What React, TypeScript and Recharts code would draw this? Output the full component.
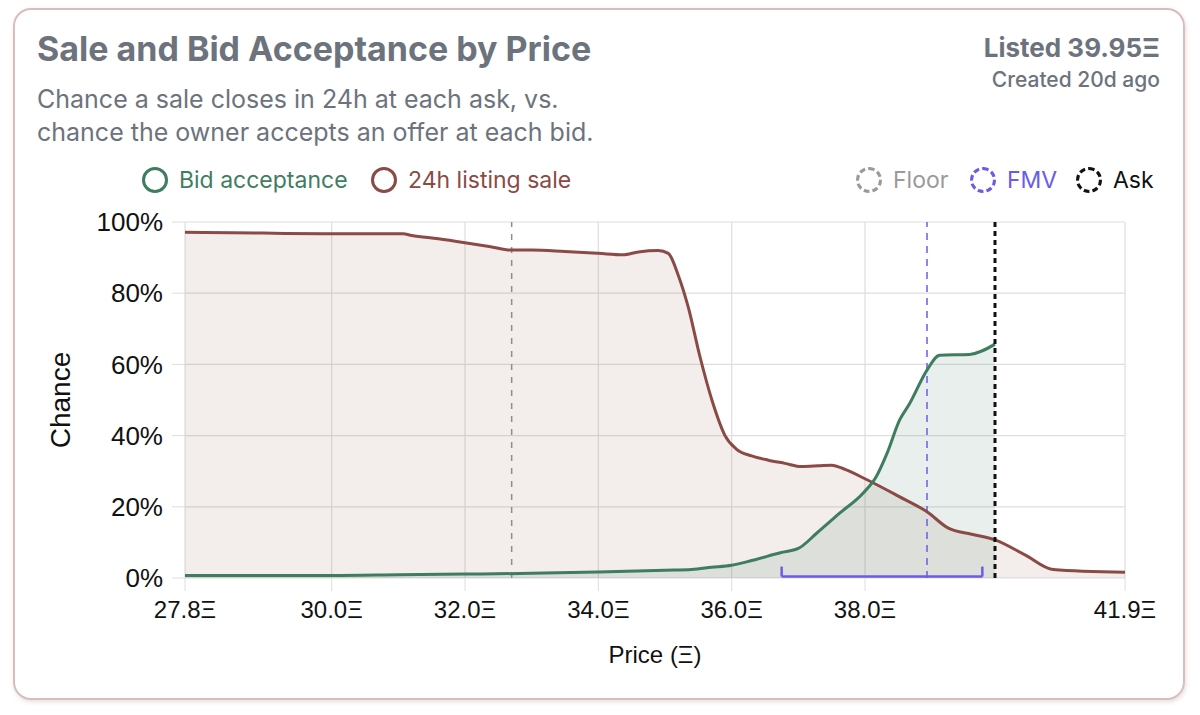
import React from 'react';
import {
  ComposedChart,
  Area,
  Line,
  XAxis,
  YAxis,
  CartesianGrid,
  ReferenceLine,
} from 'recharts';

// price points (Ξ) and chance (%)
const salePrices = [
  27.8, 28.5, 29.3, 30.0, 30.6, 31.07, 31.2, 31.6, 32.0, 32.4, 32.69, 33.0, 33.5, 34.0, 34.37, 34.6,
  34.9, 35.05, 35.2, 35.35, 35.52, 35.72, 35.9, 36.07, 36.3, 36.55, 36.8, 37.05, 37.3, 37.5, 37.7,
  38.03, 38.5, 38.93, 39.25, 39.6, 39.95, 40.4, 40.82, 41.9,
];
const saleChance = [
  97.1, 97.0, 96.8, 96.7, 96.7, 96.7, 96.2, 95.3, 94.2, 93.0, 92.1, 92.1, 91.7, 91.2, 90.8, 91.6,
  92.0, 91.2, 85.0, 76.0, 62.5, 49.0, 40.0, 36.2, 34.3, 33.1, 32.2, 31.3, 31.5, 31.7, 30.5,
  27.6, 23.0, 18.6, 14.0, 12.3, 10.7, 6.5, 2.4, 1.6,
];

const bidPrices = [
  27.8, 30.0, 31.0, 32.0, 33.0, 34.0, 35.0, 35.4, 35.7, 36.0, 36.3, 36.73, 37.0, 37.27, 37.62, 37.97,
  38.17, 38.33, 38.52, 38.67, 38.93, 39.12, 39.57, 39.95,
];
const bidChance = [
  0.7, 0.7, 0.9, 1.1, 1.3, 1.7, 2.2, 2.4, 3.0, 3.6, 4.9, 7.1, 8.3, 12.5, 18.2, 23.8,
  28.5, 35.0, 44.4, 49.0, 58.4, 62.6, 62.8, 65.7,
];

const xTicks = [27.8, 30.0, 32.0, 34.0, 36.0, 38.0, 41.9];
const yTicks = [0, 20, 40, 60, 80, 100];

const FLOOR = 32.7;
const FMV = 38.93;
const ASK = 39.95;
const fmvRange = [36.75, 39.76];

const GREEN = '#3e7d5f';
const RED = '#8a4a45';
const PURPLE = '#6b5bea';

type Row = { price: number; bid?: number; sale?: number };

const rowMap = new Map<number, Row>();
salePrices.forEach((p, i) => {
  rowMap.set(p, { ...(rowMap.get(p) || { price: p }), sale: saleChance[i] });
});
bidPrices.forEach((p, i) => {
  rowMap.set(p, { ...(rowMap.get(p) || { price: p }), bid: bidChance[i] });
});
const data: Row[] = Array.from(rowMap.values()).sort((a, b) => a.price - b.price);

const cardFont = 'Inter, "Noto Sans", sans-serif';
const axisFont = '"Liberation Sans", Arial, sans-serif';

function LegendItem({ left, color, label, dashed }: { left: number; color: string; label: string; dashed?: boolean }) {
  return (
    <div style={{ position: 'absolute', left, top: 167, display: 'flex', alignItems: 'center', height: 26 }}>
      <div
        style={{
          width: 26,
          height: 26,
          boxSizing: 'border-box',
          borderRadius: '50%',
          border: `3px ${dashed ? 'dashed' : 'solid'} ${color}`,
        }}
      />
      <span style={{ marginLeft: 11, fontSize: 23, lineHeight: '26px', color, fontFamily: cardFont }}>{label}</span>
    </div>
  );
}

export default function App() {
  return (
    <div style={{ position: 'relative', width: 1200, height: 715, background: '#fff' }}>
      <style>{`body{margin:0;background:#fff}`}</style>
      <div
        style={{
          position: 'absolute',
          left: 13,
          top: 8,
          width: 1172,
          height: 692,
          boxSizing: 'border-box',
          border: '2px solid #d9bdbd',
          borderRadius: 18,
          boxShadow: '1px 2px 4px rgba(120,80,80,0.18)',
        }}
      />
      <div
        style={{
          position: 'absolute',
          left: 37,
          top: 32,
          fontSize: 34,
          lineHeight: '34px',
          fontWeight: 700,
          color: '#6c737d',
          fontFamily: cardFont,
        }}
      >
        Sale and Bid Acceptance by Price
      </div>
      <div
        style={{
          position: 'absolute',
          left: 37,
          top: 83,
          fontSize: 25,
          lineHeight: '33px',
          color: '#6c737d',
          fontFamily: cardFont,
        }}
      >
        Chance a sale closes in 24h at each ask, vs.
        <br />
        chance the owner accepts an offer at each bid.
      </div>
      <div
        style={{
          position: 'absolute',
          right: 40,
          top: 35,
          fontSize: 26,
          lineHeight: '26px',
          fontWeight: 700,
          color: '#6c737d',
          fontFamily: cardFont,
          textAlign: 'right',
        }}
      >
        Listed 39.95Ξ
      </div>
      <div
        style={{
          position: 'absolute',
          right: 40,
          top: 69,
          fontSize: 21,
          lineHeight: '21px',
          fontWeight: 500,
          color: '#6c737d',
          fontFamily: cardFont,
          textAlign: 'right',
        }}
      >
        Created 20d ago
      </div>

      <LegendItem left={142} color={GREEN} label="Bid acceptance" />
      <LegendItem left={371} color={RED} label="24h listing sale" />
      <LegendItem left={856} color="#9a9a9a" label="Floor" dashed />
      <LegendItem left={970} color={PURPLE} label="FMV" dashed />
      <LegendItem left={1076} color="#111" label="Ask" dashed />

      <div style={{ position: 'absolute', left: 0, top: 200 }}>
        <ComposedChart width={1200} height={480} data={data} margin={{ top: 22, right: 75, bottom: 2, left: 40 }}>
          <CartesianGrid stroke="#dedede" strokeWidth={1.2} />
          <XAxis
            dataKey="price"
            type="number"
            domain={[27.8, 41.9]}
            ticks={xTicks}
            tickFormatter={(v: number) => `${v.toFixed(1)}Ξ`}
            height={100}
            axisLine={false}
            tickLine={{ stroke: '#dedede' }}
            tickSize={13}
            tickMargin={10}
            tick={{ fill: '#111', fontSize: 24, fontFamily: axisFont }}
            label={{
              value: 'Price (Ξ)',
              position: 'insideBottom',
              offset: 15,
              style: { fill: '#111', fontSize: 24, fontFamily: axisFont },
            }}
          />
          <YAxis
            type="number"
            domain={[0, 100]}
            ticks={yTicks}
            tickFormatter={(v: number) => `${v}%`}
            width={145}
            axisLine={false}
            tickLine={{ stroke: '#dedede' }}
            tickSize={13}
            tickMargin={9}
            tick={{ fill: '#111', fontSize: 26, fontFamily: axisFont }}
            label={{
              value: 'Chance',
              angle: -90,
              position: 'insideLeft',
              offset: 20,
              style: { fill: '#111', fontSize: 28, fontFamily: axisFont, textAnchor: 'middle' },
            }}
          />
          <Area
            dataKey="sale"
            type="monotone"
            stroke="none"
            fill={RED}
            fillOpacity={0.1}
            connectNulls
            isAnimationActive={false}
          />
          <Area
            dataKey="bid"
            type="monotone"
            stroke="none"
            fill={GREEN}
            fillOpacity={0.12}
            connectNulls
            isAnimationActive={false}
          />
          <ReferenceLine x={FLOOR} stroke="#8e8e8e" strokeWidth={1.5} strokeDasharray="6 7" />
          <ReferenceLine x={FMV} stroke={PURPLE} strokeWidth={1.5} strokeDasharray="7 6" />
          <ReferenceLine
            segment={[{ x: fmvRange[0], y: 0.4 }, { x: fmvRange[1], y: 0.4 }]}
            stroke={PURPLE}
            strokeWidth={2.5}
          />
          <ReferenceLine
            segment={[{ x: fmvRange[0], y: 0.4 }, { x: fmvRange[0], y: 3.2 }]}
            stroke={PURPLE}
            strokeWidth={2.5}
          />
          <ReferenceLine
            segment={[{ x: fmvRange[1], y: 0.4 }, { x: fmvRange[1], y: 3.2 }]}
            stroke={PURPLE}
            strokeWidth={2.5}
          />
          <Line
            dataKey="sale"
            type="monotone"
            stroke={RED}
            strokeWidth={3}
            dot={false}
            activeDot={false}
            connectNulls
            isAnimationActive={false}
          />
          <Line
            dataKey="bid"
            type="monotone"
            stroke={GREEN}
            strokeWidth={3}
            dot={false}
            activeDot={false}
            connectNulls
            isAnimationActive={false}
          />
          <ReferenceLine x={ASK} stroke="#111" strokeWidth={3} strokeDasharray="5 4" />
        </ComposedChart>
      </div>
    </div>
  );
}
